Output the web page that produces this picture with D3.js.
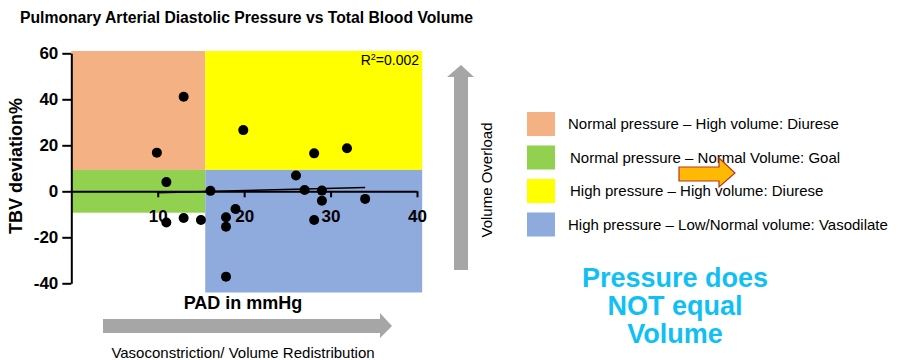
<!DOCTYPE html>
<html>
<head>
<meta charset="utf-8">
<script src="https://cdn.jsdelivr.net/npm/d3@7"></script>
<style>
  body { margin: 0; background: #fff; }
  svg { font-family: "Liberation Sans", Arial, sans-serif; }
</style>
</head>
<body>
<div id="chart"></div>
<script>
// data
var pad = [13.0, 9.9, 11.0, 19.9, 28.1, 31.9, 26.0, 16.1, 27.0, 29.0, 29.0, 34.0, 19.0, 17.9, 28.1, 11.0, 13.0, 15.0, 17.9, 17.9];
var tbv = [41.1, 16.8, 4.0, 26.6, 16.5, 18.7, 6.9, 0.2, 0.6, 0.3, -4.1, -3.3, -7.7, -11.3, -12.5, -13.6, -11.6, -12.5, -15.4, -37.1];
var regPad = [10, 34];
var regTbv = [-0.6, 1.6];
var xTicks = [10, 20, 30, 40];
var yTicks = [-40, -20, 0, 20, 40, 60];

// zone thresholds
var padCut = 15.5;
var padMax = 40.6;
var tbvTop = 61;
var tbvHigh = 9.3;
var tbvLow = -9.3;
var tbvBottom = -44;

var zoneNames = [
  'Normal pressure \u2013 High volume: Diurese',
  'Normal pressure \u2013 Normal Volume: Goal',
  'High pressure \u2013 High volume: Diurese',
  'High pressure \u2013 Low/Normal volume: Vasodilate'
];
var zoneColors = ['#f4b183', '#92d050', '#ffff00', '#8faadc'];

var svgWidth = 899;
var svgHeight = 360;

var svg = d3.select('#chart')
    .append('svg')
    .attr('width', svgWidth)
    .attr('height', svgHeight);

var x = d3.scaleLinear().domain([0, 40]).range([71.3, 417]);
var y = d3.scaleLinear().domain([-40, 60]).range([283.3, 53.3]);

// title
svg.append('text')
    .attr('x', 20)
    .attr('y', 23)
    .attr('font-size', 16)
    .attr('font-weight', 'bold')
    .attr('textLength', 453)
    .attr('lengthAdjust', 'spacingAndGlyphs')
    .text('Pulmonary Arterial Diastolic Pressure vs Total Blood Volume');

// zones
var zones = [
  [0, padCut, tbvHigh, tbvTop],
  [0, padCut, tbvLow, tbvHigh],
  [padCut, padMax, tbvHigh, tbvTop],
  [padCut, padMax, tbvBottom, tbvHigh]
];
svg.selectAll('rect.zone')
    .data(zones)
    .enter()
    .append('rect')
    .attr('class', 'zone')
    .attr('x', d => x(d[0]))
    .attr('y', d => y(d[3]))
    .attr('width', d => x(d[1]) - x(d[0]))
    .attr('height', d => y(d[2]) - y(d[3]))
    .attr('fill', (d, i) => zoneColors[i]);

svg.append('text')
    .attr('x', 419)
    .attr('y', 65)
    .attr('text-anchor', 'end')
    .attr('font-size', 14)
    .html('R<tspan dy="-5" font-size="9">2</tspan><tspan dy="5">=0.002</tspan>');

// axes
var yAxis = d3.axisLeft(y).tickValues(yTicks).tickSize(9).tickSizeOuter(0).tickPadding(4)
    .tickFormat(d => String(d));
var gy = svg.append('g')
    .attr('transform', `translate(${x(0)},0)`)
    .call(yAxis);

var xAxis = d3.axisBottom(x).tickValues(xTicks).tickSize(6).tickSizeOuter(0).tickPadding(13)
    .tickFormat(d => String(d));
var gx = svg.append('g')
    .attr('transform', `translate(0,${y(0)})`)
    .call(xAxis);

[gx, gy].forEach(g => {
  g.selectAll('path, line').attr('stroke', '#000').attr('stroke-width', 2);
  g.selectAll('text')
      .attr('fill', '#000')
      .attr('font-size', 17)
      .attr('font-weight', 'bold')
      .attr('font-family', '"Liberation Sans", Arial, sans-serif');
});

// regression line
svg.append('line')
    .attr('x1', x(regPad[0]))
    .attr('y1', y(regTbv[0]))
    .attr('x2', x(regPad[1]))
    .attr('y2', y(regTbv[1]))
    .attr('stroke', '#000')
    .attr('stroke-width', 1.5);

// points
svg.selectAll('circle')
    .data(pad)
    .enter()
    .append('circle')
    .attr('cx', d => x(d))
    .attr('cy', (d, i) => y(tbv[i]))
    .attr('r', 5)
    .attr('fill', '#000');

// axis titles
svg.append('text')
    .attr('transform', 'translate(22,166) rotate(-90)')
    .attr('text-anchor', 'middle')
    .attr('font-size', 18)
    .attr('font-weight', 'bold')
    .text('TBV deviation%');

svg.append('text')
    .attr('x', 243)
    .attr('y', 309)
    .attr('text-anchor', 'middle')
    .attr('font-size', 18)
    .attr('font-weight', 'bold')
    .text('PAD in mmHg');

// gray arrows
svg.append('path')
    .attr('d', 'M103,319 L380,319 L380,313 L392,326 L380,338 L380,333 L103,333 Z')
    .attr('fill', '#a6a6a6');

svg.append('text')
    .attr('x', 243)
    .attr('y', 358)
    .attr('text-anchor', 'middle')
    .attr('font-size', 15)
    .text('Vasoconstriction/ Volume Redistribution');

svg.append('path')
    .attr('d', 'M454,270 L454,77 L447,77 L461,65 L474,77 L468,77 L468,270 Z')
    .attr('fill', '#a6a6a6');

svg.append('text')
    .attr('transform', 'translate(492,180) rotate(-90)')
    .attr('text-anchor', 'middle')
    .attr('font-size', 15)
    .text('Volume Overload');

// legend
var legend = svg.selectAll('g.legend')
    .data(zoneNames)
    .enter()
    .append('g')
    .attr('class', 'legend')
    .attr('transform', (d, i) => `translate(527,${112 + i * 33.5})`);

legend.append('rect')
    .attr('width', 28)
    .attr('height', 24)
    .attr('fill', (d, i) => zoneColors[i]);

legend.append('text')
    .attr('x', (d, i) => (i == 0 || i == 3) ? 41 : 43)
    .attr('y', 17)
    .attr('font-size', 15)
    .text(d => d);

// orange arrow
svg.append('path')
    .attr('d', 'M679,167 L719,167 L719,158 L735,173 L719,187 L719,181 L679,181 Z')
    .attr('fill', '#ffb900')
    .attr('stroke', '#b5382a')
    .attr('stroke-width', 1.2);

// callout
var callout = ['Pressure does', 'NOT equal', 'Volume'];
svg.selectAll('text.callout')
    .data(callout)
    .enter()
    .append('text')
    .attr('class', 'callout')
    .attr('x', 675)
    .attr('y', (d, i) => 287 + i * 28)
    .attr('text-anchor', 'middle')
    .attr('font-size', 27)
    .attr('font-weight', 'bold')
    .attr('fill', '#10c0f5')
    .text(d => d);
</script>
</body>
</html>
